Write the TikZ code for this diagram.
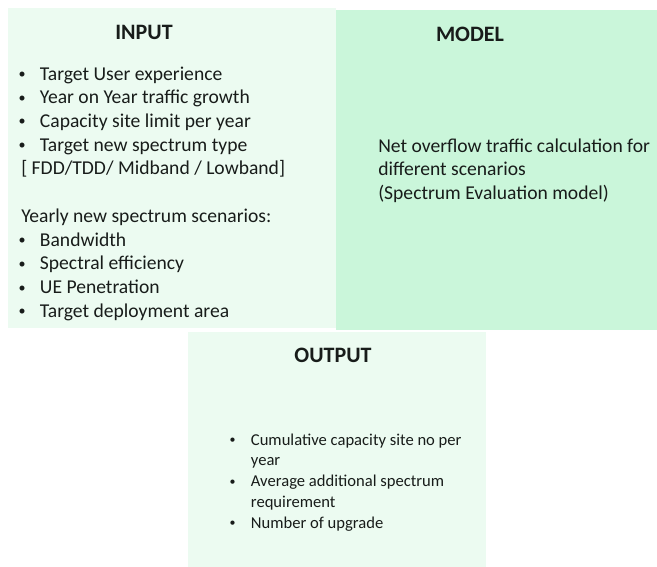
\documentclass[tikz,border=0pt]{standalone}
\usepackage{fontspec}
\setmainfont{Carlito}
\usetikzlibrary{positioning}

\definecolor{paleGreen}{RGB}{236,251,241}
\definecolor{modelGreen}{RGB}{202,246,218}
\definecolor{inkGray}{RGB}{24,28,26}

% small bullet with a fixed width, so the item texts line up
\newcommand{\blt}{\makebox[17pt][l]{\hspace{1pt}\raisebox{0.08em}{\scalebox{0.72}{\textbullet}}}}

\tikzset{
  panel/.style={anchor=north west, inner sep=0pt, draw=none},
  boxtitle/.style={anchor=base, inner sep=0pt, text=inkGray, font=\fontsize{16.5}{20}\selectfont\bfseries},
  boxtext/.style={anchor=base west, inner sep=0pt, text=inkGray, font=\fontsize{14.7}{17.8}\selectfont},
  smalltext/.style={boxtext, font=\fontsize{12.45}{15.6}\selectfont}
}

\begin{document}
\begin{tikzpicture}[x=0.75pt, y=-0.75pt]
  \useasboundingbox (0,0) rectangle (657,567);

  % The three panels
  \node[panel, fill=paleGreen, minimum width=246pt, minimum height=240pt] (inbox) at (8,8) {};
  \node[panel, fill=modelGreen, minimum width=241pt, minimum height=240pt] (modelbox) at (336,10) {};
  \node[panel, fill=paleGreen, minimum width=223pt, minimum height=177pt] (outbox) at (188,332) {};

  % Titles
  \node[boxtitle] (intitle) at (144,40) {INPUT};
  \node[boxtitle] (modeltitle) at (470,42) {MODEL};
  \node[boxtitle] (outtitle) at (333,362) {OUTPUT};

  % Input list (first baseline at the node's base)
  \node[boxtext] (inlist) at (17,80) {\begin{tabular}[t]{@{}l@{}}
    \blt Target User experience\\
    \blt Year on Year traffic growth\\
    \blt Capacity site limit per year\\
    \blt Target new spectrum type\\
    \hspace*{3pt}[ FDD/TDD/ Midband / Lowband]\\
    \\
    \hspace*{3pt}Yearly new spectrum scenarios:\\
    \blt Bandwidth\\
    \blt Spectral efficiency\\
    \blt UE Penetration\\
    \blt Target deployment area
  \end{tabular}};

  % Model description
  \node[boxtext] (modeltext) at (378,152) {\begin{tabular}[t]{@{}l@{}}
    Net overflow traffic calculation for\\
    different scenarios\\
    (Spectrum Evaluation model)
  \end{tabular}};

  % Output list
  \node[smalltext] (outlist) at (228,445) {\begin{tabular}[t]{@{}l@{}}
    \blt Cumulative capacity site no per\\
    \hspace*{17pt}year\\
    \blt Average additional spectrum\\
    \hspace*{17pt}requirement\\
    \blt Number of upgrade
  \end{tabular}};
\end{tikzpicture}
\end{document}
